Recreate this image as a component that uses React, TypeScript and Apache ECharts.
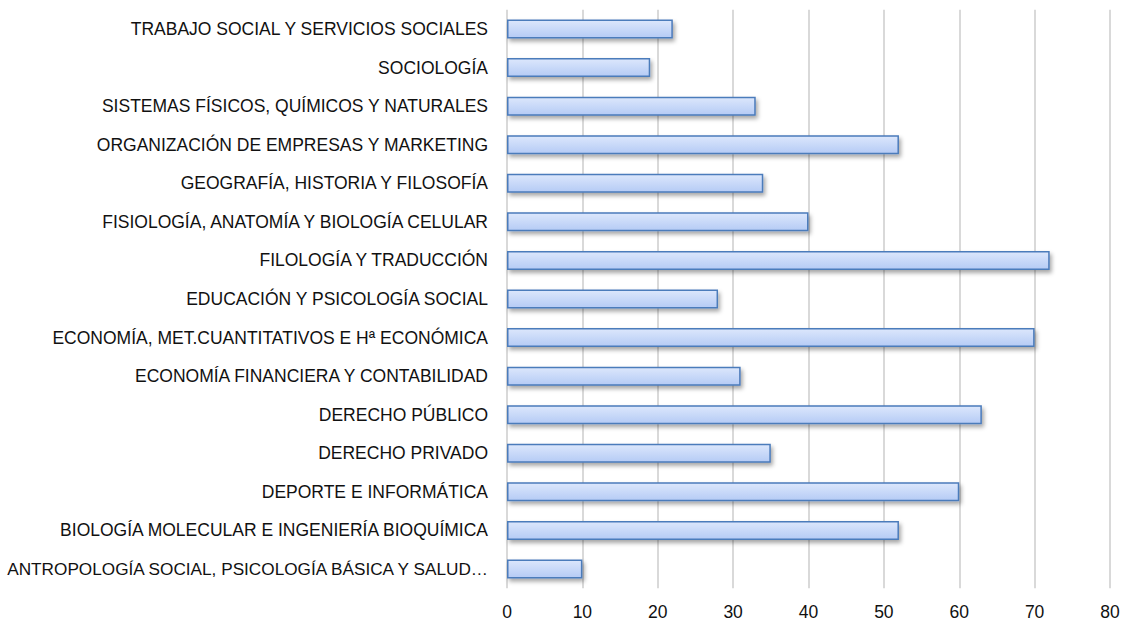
import React, { useEffect, useRef } from "react";
import * as echarts from "echarts";

const categories = [
  "ANTROPOLOGÍA SOCIAL, PSICOLOGÍA BÁSICA Y SALUD…",
  "BIOLOGÍA MOLECULAR E INGENIERÍA BIOQUÍMICA",
  "DEPORTE E INFORMÁTICA",
  "DERECHO PRIVADO",
  "DERECHO PÚBLICO",
  "ECONOMÍA FINANCIERA Y CONTABILIDAD",
  "ECONOMÍA, MET.CUANTITATIVOS E Hª ECONÓMICA",
  "EDUCACIÓN Y PSICOLOGÍA SOCIAL",
  "FILOLOGÍA Y TRADUCCIÓN",
  "FISIOLOGÍA, ANATOMÍA Y BIOLOGÍA CELULAR",
  "GEOGRAFÍA, HISTORIA Y FILOSOFÍA",
  "ORGANIZACIÓN DE EMPRESAS Y MARKETING",
  "SISTEMAS FÍSICOS, QUÍMICOS Y NATURALES",
  "SOCIOLOGÍA",
  "TRABAJO SOCIAL Y SERVICIOS SOCIALES",
];

const values = [10, 52, 60, 35, 63, 31, 70, 28, 72, 40, 34, 52, 33, 19, 22];

const xMin = 0;
const xMax = 80;
const xInterval = 10;

export default function App() {
  const ref = useRef<HTMLDivElement>(null);
  useEffect(() => {
    if (!ref.current) return;
    const chart = echarts.init(ref.current, undefined, { renderer: "svg" });
    const font = "'Liberation Sans', Arial, sans-serif";
    chart.setOption({
      animation: false,
      backgroundColor: "#ffffff",
      grid: {
        left: 507,
        right: 18,
        top: 9.7,
        bottom: 33.7,
        containLabel: false,
        outerBoundsMode: "none",
      },
      xAxis: {
        type: "value",
        min: xMin,
        max: xMax,
        interval: xInterval,
        axisLine: { show: false },
        axisTick: { show: false },
        splitLine: { show: true, lineStyle: { color: "#d9d9d9", width: 2 } },
        axisLabel: { color: "#111111", fontFamily: font, fontSize: 17.5, margin: 15 },
      },
      yAxis: {
        type: "category",
        data: categories.map((c, i) =>
          i === 0 ? { value: c, textStyle: { fontSize: 17.2 } } : c
        ),
        axisLine: { show: false },
        axisTick: { show: false },
        axisLabel: { color: "#111111", fontFamily: font, fontSize: 17.5, margin: 19 },
      },
      series: [
        {
          type: "bar",
          data: values,
          barWidth: 19,
          itemStyle: {
            color: new echarts.graphic.LinearGradient(0, 0, 0, 1, [
              { offset: 0, color: "#dce7fc" },
              { offset: 1, color: "#b5cbf5" },
            ]),
            borderColor: "#4b7bbb",
            borderWidth: 1.5,
            shadowColor: "rgba(0,0,0,0.35)",
            shadowBlur: 4,
            shadowOffsetX: 2,
            shadowOffsetY: 3,
          },
        },
      ],
    });
    return () => chart.dispose();
  }, []);
  return (
    <div
      ref={ref}
      style={{ position: "fixed", left: 0, top: 0, width: 1128, height: 622 }}
    />
  );
}
